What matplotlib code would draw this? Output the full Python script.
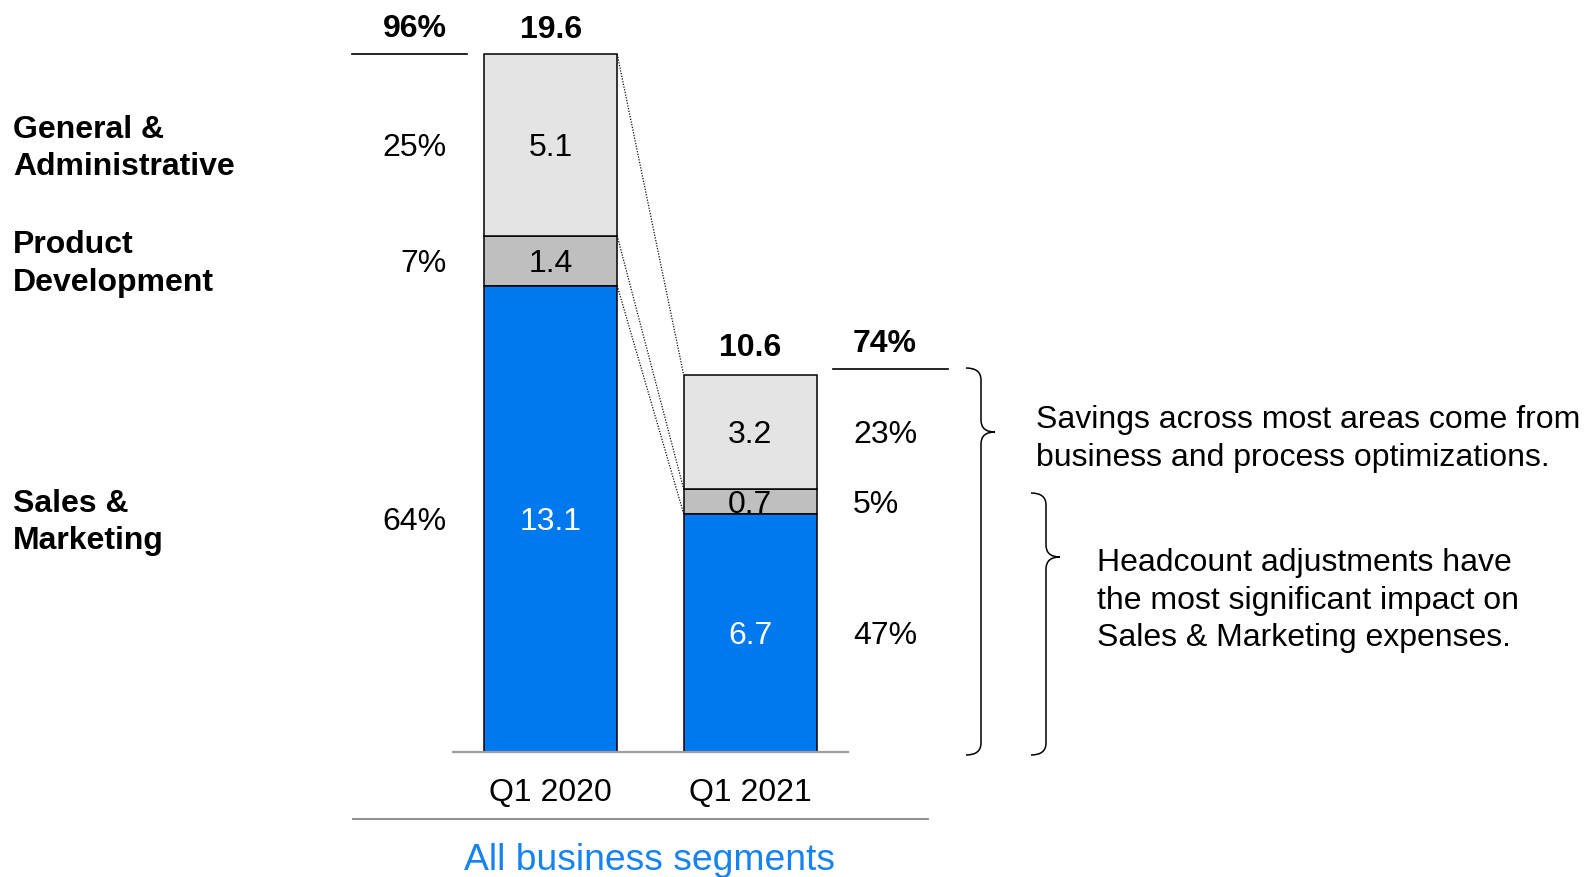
import matplotlib
matplotlib.use("Agg")
import matplotlib.pyplot as plt
import matplotlib.transforms as mtransforms
from matplotlib.path import Path
from matplotlib.patches import PathPatch
from matplotlib.lines import Line2D
import numpy as np

# ---- data -------------------------------------------------------------
periods = ["Q1 2020", "Q1 2021"]
segment_names = ["Sales &\nMarketing", "Product\nDevelopment", "General &\nAdministrative"]
sales_marketing = [13.1, 6.7]
product_development = [1.4, 0.7]
general_admin = [5.1, 3.2]
totals = [19.6, 10.6]
share_2020 = ["64%", "7%", "25%"]
share_2021 = ["47%", "5%", "23%"]
total_share = ["96%", "74%"]
note_top = ["Savings across most areas come from",
            "business and process optimizations."]
note_bottom = ["Headcount adjustments have",
               "the most significant impact on",
               "Sales & Marketing expenses."]
footer = "All business segments"

# ---- style ------------------------------------------------------------
BLUE = "#0078EE"
MID = "#BFBFBF"
LIGHT = "#E4E4E4"
FOOTER_BLUE = "#1683EF"
FONT = "Liberation Sans"
FS = 23.0                     # points
W, H, DPI = 1592, 877, 100
FONT_PX = FS * DPI / 72
CAP = 0.716 * FONT_PX         # cap height in pixels
LS = 37.7                     # line pitch in pixels

plt.rcParams["font.family"] = [FONT, "DejaVu Sans"]

fig = plt.figure(figsize=(W / DPI, H / DPI), dpi=DPI)
ax = fig.add_axes([0, 0, 1, 1])
ax.set_xlim(-2.760, 5.2195)
ax.set_ylim(-3.501, 21.12)
ax.axis("off")

# pixel coordinates measured from the top-left corner of the canvas
px = mtransforms.Affine2D().scale(1 / W, -1 / H).translate(0, 1) + fig.transFigure
px_x_data_y = mtransforms.blended_transform_factory(px, ax.transData)


def label(text, xy, trans, ha="center", color="black", weight="normal",
          size=FS, z=5, lines_offset=0.0):
    """Place text so that its cap height is vertically centred on xy."""
    ax.annotate(text, xy=xy, xycoords=trans,
                xytext=(0, -CAP / 2 - lines_offset), textcoords="offset pixels",
                ha=ha, va="baseline", color=color, fontweight=weight,
                fontsize=size, zorder=z, annotation_clip=False)


def block(lines, xy, trans, ha="left", weight="normal"):
    n = len(lines)
    for k, s in enumerate(lines):
        label(s, xy, trans, ha=ha, weight=weight,
              lines_offset=(k - (n - 1) / 2) * LS)


# ---- stacked bars -----------------------------------------------------
x = np.arange(len(periods))
width = 0.667
edge = dict(edgecolor="black", linewidth=1.1)
bottom_pd = np.array(sales_marketing)
bottom_ga = bottom_pd + np.array(product_development)
ax.bar(x, sales_marketing, width, color=BLUE, zorder=4, **edge)
ax.bar(x, product_development, width, bottom=bottom_pd, color=MID, zorder=2, **edge)
ax.bar(x, general_admin, width, bottom=bottom_ga, color=LIGHT, zorder=2, **edge)

# values inside segments
for i in range(len(periods)):
    label(f"{sales_marketing[i]}", (x[i], sales_marketing[i] / 2), ax.transData,
          color="white", z=6)
    label(f"{product_development[i]}", (x[i], bottom_pd[i] + product_development[i] / 2),
          ax.transData, z=3)
    label(f"{general_admin[i]}", (x[i], bottom_ga[i] + general_admin[i] / 2),
          ax.transData, z=3)
    # totals above the bars
    ax.annotate(f"{totals[i]}", xy=(x[i], totals[i]), xytext=(0, 16 + 2.5 * i),
                textcoords="offset pixels", ha="center", va="baseline",
                fontsize=FS, fontweight="bold", annotation_clip=False)
    # category labels under the baseline
    ax.annotate(periods[i], xy=(x[i], 0), xytext=(0, -49),
                textcoords="offset pixels", ha="center", va="baseline",
                fontsize=FS, annotation_clip=False)

# dotted connectors between the segment tops of both bars
tops_0 = [totals[0], bottom_ga[0], bottom_pd[0]]
tops_1 = [totals[1], bottom_ga[1], bottom_pd[1]]
for a, b in zip(tops_0, tops_1):
    ax.plot([x[0] + width / 2, x[1] - width / 2], [a, b], color="#111111",
            lw=0.9, ls=(0, (1, 1.2)), zorder=1)

# baseline
ax.plot([x[0] - width / 2 - 0.16, x[1] + width / 2 + 0.16], [0, 0],
        color="#9E9E9E", lw=1.6, zorder=7, solid_capstyle="butt")

# ---- left column: segment names and 2020 shares -----------------------
centres_2020 = [sales_marketing[0] / 2,
                bottom_pd[0] + product_development[0] / 2,
                bottom_ga[0] + general_admin[0] / 2]
for name, share, c in zip(segment_names, share_2020, centres_2020):
    block(name.split("\n"), (13, c), px_x_data_y, ha="left", weight="bold")
    label(share, (447, c), px_x_data_y, ha="right")

# ---- right column: 2021 shares ----------------------------------------
centres_2021 = [sales_marketing[1] / 2,
                bottom_pd[1] + product_development[1] / 2,
                bottom_ga[1] + general_admin[1] / 2]
for share, c in zip(share_2021, centres_2021):
    label(share, (853, c), px_x_data_y, ha="left")

# ---- overall shares with rules ----------------------------------------
label(total_share[0], (415, 26), px, weight="bold")
label(total_share[1], (885, 341), px, weight="bold")
for x0, x1, y in [(352, 467, 53.5), (833, 948, 369)]:
    fig.add_artist(Line2D([x0, x1], [y, y], transform=px, color="black", lw=1.2))

# ---- braces -----------------------------------------------------------
def brace(x0, x1, x2, ytop, ymid, ybot, r=12):
    verts = [(x0, ytop), (x1, ytop), (x1, ytop + r),
             (x1, ymid - r), (x1, ymid), (x2, ymid),
             (x1, ymid), (x1, ymid + r),
             (x1, ybot - r), (x1, ybot), (x0, ybot)]
    codes = [Path.MOVETO, Path.CURVE3, Path.CURVE3,
             Path.LINETO, Path.CURVE3, Path.CURVE3,
             Path.CURVE3, Path.CURVE3,
             Path.LINETO, Path.CURVE3, Path.CURVE3]
    fig.add_artist(PathPatch(Path(verts, codes), transform=px, fill=False,
                             edgecolor="black", lw=1.1, capstyle="butt"))


brace(966, 981, 995, 368, 432, 755)
brace(1031, 1046, 1060, 493, 557, 755)

# ---- notes ------------------------------------------------------------
for k, s in enumerate(note_top):
    label(s, (1036, 417 + k * LS), px, ha="left")
for k, s in enumerate(note_bottom):
    label(s, (1097, 559.5 + k * LS), px, ha="left")

# ---- footer -----------------------------------------------------------
fig.add_artist(Line2D([353, 928], [819.3, 819.3], transform=px,
                      color="#8F8F8F", lw=1.4))
fig.text(650 / W, 1 - 870 / H, footer, ha="center", va="baseline",
         fontsize=26.8, color=FOOTER_BLUE)

fig.savefig("out.png", dpi=DPI)
